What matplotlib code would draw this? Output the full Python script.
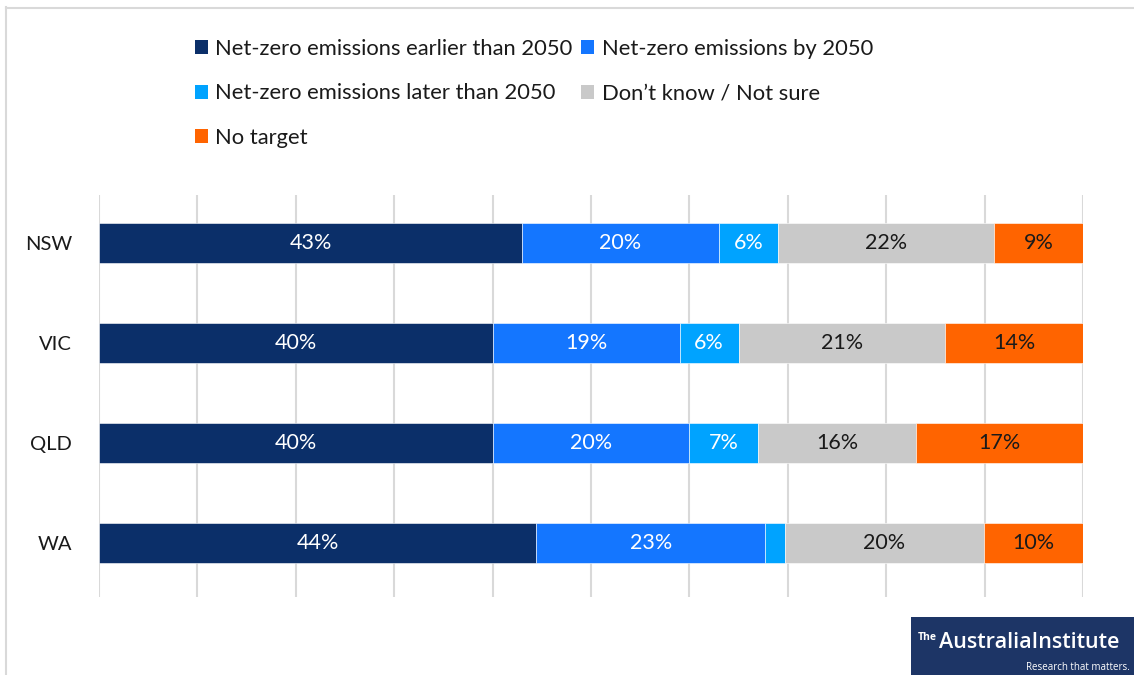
import matplotlib
matplotlib.use("Agg")
import matplotlib.pyplot as plt
from matplotlib.patches import Rectangle, Patch
import numpy as np

plt.rcParams['font.family'] = ['Lato', 'DejaVu Sans']

states = ["NSW", "VIC", "QLD", "WA"]
series_names = [
    "Net-zero emissions earlier than 2050",
    "Net-zero emissions by 2050",
    "Net-zero emissions later than 2050",
    "Don\u2019t know / Not sure",
    "No target",
]
earlier = [43, 40, 40, 44]
by2050 = [20, 19, 20, 23]
later = [6, 6, 7, 2]
dontknow = [22, 21, 16, 20]
notarget = [9, 14, 17, 10]
labels_shown = [
    ["43%", "40%", "40%", "44%"],
    ["20%", "19%", "20%", "23%"],
    ["6%", "6%", "7%", ""],
    ["22%", "21%", "16%", "20%"],
    ["9%", "14%", "17%", "10%"],
]

colors = ["#0b2f69", "#1476ff", "#00a3ff", "#c9c9c9", "#ff6400"]
text_colors = ["white", "white", "white", "#1a1a1a", "#1a1a1a"]

W, H = 1134, 675
fig = plt.figure(figsize=(W / 100, H / 100), dpi=100)
ax = fig.add_axes([99 / W, 1 - 597 / H, (1083 - 99) / W, (597 - 195) / H])

data = np.array([earlier, by2050, later, dontknow, notarget], dtype=float)
data = data / data.sum(axis=0) * 100
y = np.arange(len(states))
left = np.zeros(len(states))
handles = []
for i, name in enumerate(series_names):
    bars = ax.barh(y, data[i], left=left, height=0.4, color=colors[i],
                   edgecolor="white", linewidth=0.4, label=name, zorder=3)
    ax.bar_label(bars, labels=labels_shown[i], label_type="center",
                 color=text_colors[i], fontsize=15.5)
    left += data[i]
    handles.append(Patch(facecolor=colors[i], edgecolor="none"))

ax.set_xlim(0, 100)
ax.set_ylim(3.54, -0.48)
ax.set_xticks(np.arange(0, 101, 10))
ax.xaxis.grid(True, color="#d9d9d9", linewidth=1.5, zorder=0)
ax.set_xticklabels([])
ax.set_yticks(y)
ax.set_yticklabels(states, fontsize=14.5, color="#1a1a1a")
ax.tick_params(axis="both", length=0, pad=19.5)
for s in ax.spines.values():
    s.set_visible(False)

order = [0, 2, 4, 1, 3]
leg = fig.legend([handles[k] for k in order], [series_names[k] for k in order],
                 ncol=2, loc="upper left", bbox_to_anchor=(175 / W, 1 - 19 / H),
                 frameon=False, fontsize=15.8, handlelength=0.6, handleheight=0.6,
                 handletextpad=0.33, columnspacing=0.4, labelspacing=1.12,
                 labelcolor="#1a1a1a")

# outer frame (left and top)
fig.add_artist(plt.Line2D([5.5 / W, 5.5 / W], [0, 1 - 7 / H], color="#d9d9d9",
                          linewidth=1.5, transform=fig.transFigure))
fig.add_artist(plt.Line2D([5.5 / W, 1], [1 - 7.5 / H, 1 - 7.5 / H], color="#d9d9d9",
                          linewidth=1.5, transform=fig.transFigure))

# logo
fig.add_artist(Rectangle((911 / W, 0), (W - 911) / W, 58 / H, transform=fig.transFigure,
                         facecolor="#1d3566", edgecolor="none"))
fig.text(937 / W, 1 - 637 / H, "The", color="white", fontsize=7.5, va="center",
         ha="right", family=["Open Sans"], fontweight="bold")
fig.text(939 / W, 1 - 643 / H, "AustraliaInstitute", color="white", fontsize=15.5,
         va="center", ha="left", family=["Open Sans"], fontweight="semibold")
fig.text(1130 / W, 1 - 667 / H, "Research that matters.", color="white", fontsize=7,
         va="center", ha="right", family=["Open Sans"])

fig.savefig("out.png", dpi=100)
